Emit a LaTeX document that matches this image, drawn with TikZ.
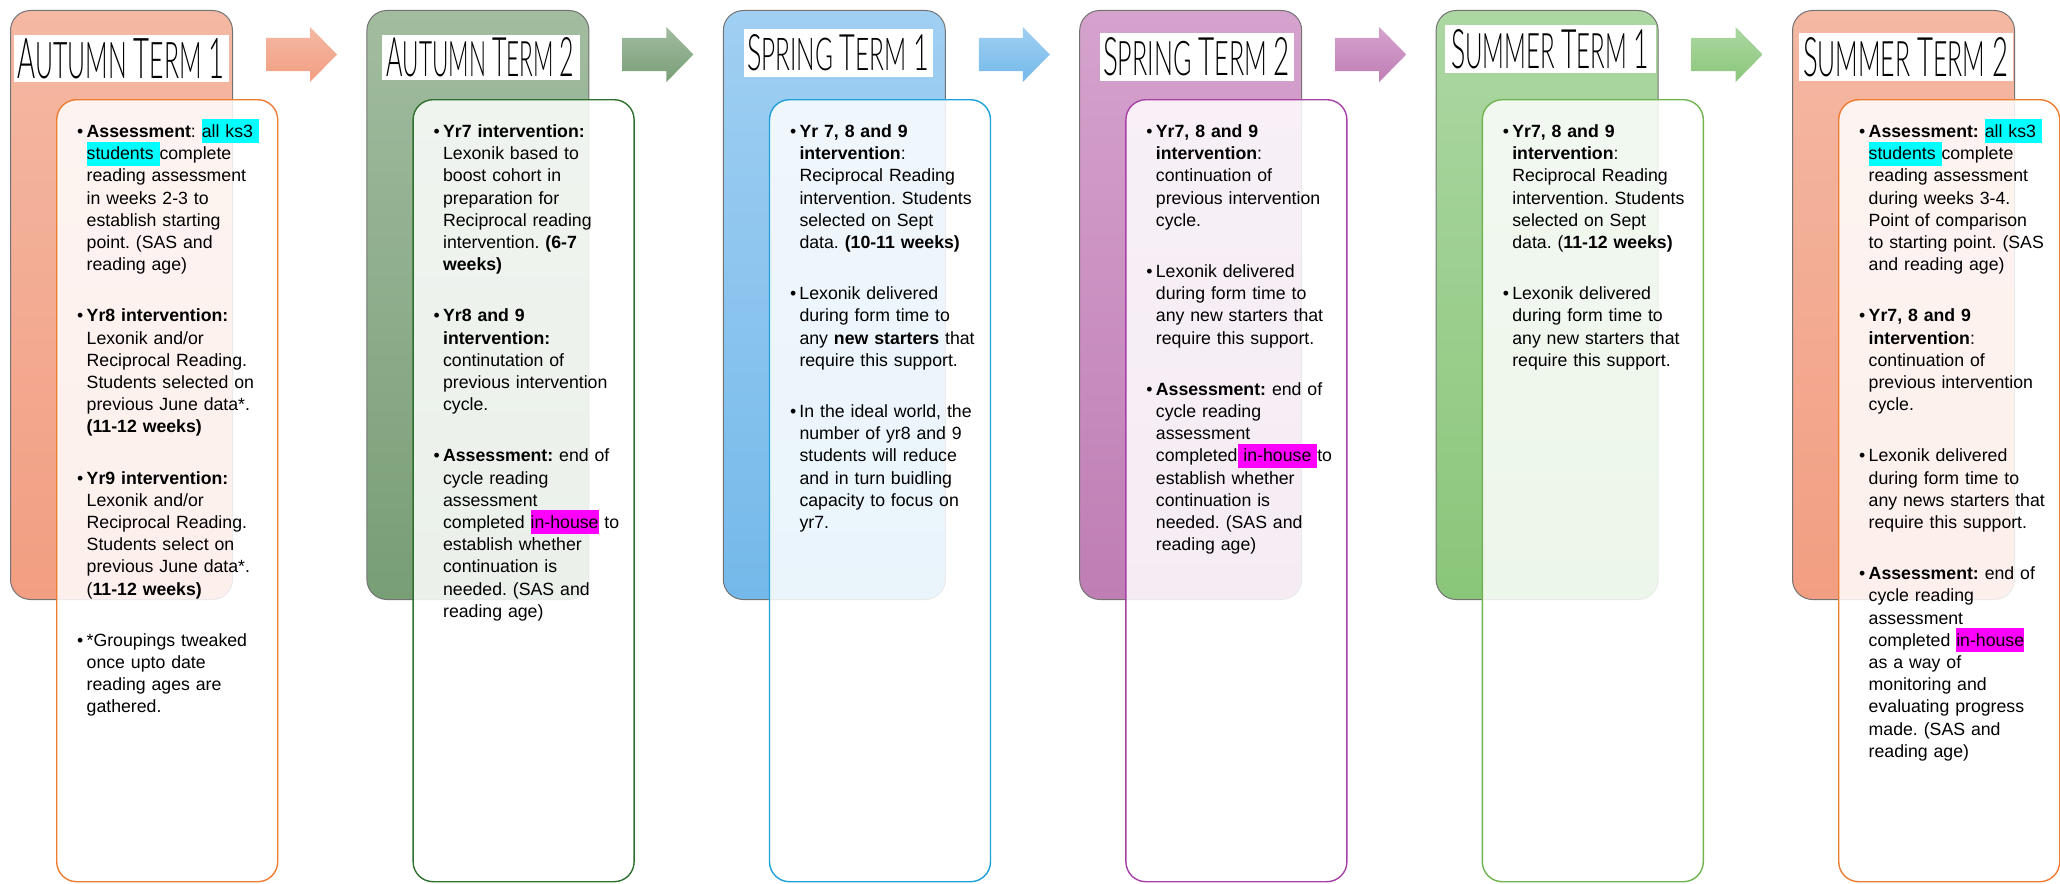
\documentclass[tikz,border=0pt]{standalone}
\usepackage{fontspec}
\usepackage{graphicx}
\setmainfont{Liberation Sans}
\IfFontExistsTF{Lato Light}{\newfontfamily\termfont{Lato Light}}{\newfontfamily\termfont{Lato}}
\usetikzlibrary{calc, positioning}
\frenchspacing

\definecolor{autumnA}{RGB}{244,184,163}
\definecolor{autumnB}{RGB}{242,158,130}
\definecolor{sageA}{RGB}{162,188,160}
\definecolor{sageB}{RGB}{120,158,118}
\definecolor{skyA}{RGB}{160,207,242}
\definecolor{skyB}{RGB}{116,185,234}
\definecolor{plumA}{RGB}{213,162,205}
\definecolor{plumB}{RGB}{191,126,180}
\definecolor{leafA}{RGB}{172,215,162}
\definecolor{leafB}{RGB}{138,198,122}
\definecolor{orangeline}{RGB}{237,125,49}
\definecolor{sageline}{RGB}{46,112,46}
\definecolor{skyline}{RGB}{30,160,218}
\definecolor{plumline}{RGB}{166,64,166}
\definecolor{leafline}{RGB}{112,180,80}
\definecolor{markcyan}{RGB}{0,255,255}
\definecolor{markpink}{RGB}{255,0,255}

% text helpers
\newcommand{\itm}[1]{\par\hangindent=9.5pt\hangafter=1\noindent\rule{0pt}{18pt}\makebox[9.5pt][l]{\textbullet}#1\par\vspace{29pt}}
\newcommand{\marktext}[2]{\smash{\setlength{\fboxsep}{0pt}\colorbox{#1}{\rule[-6pt]{0pt}{24pt}#2}}}
\newcommand{\bigc}[1]{{\fontsize{60}{60}\selectfont #1}}
\newcommand{\termtitle}[3]{\resizebox{#1}{#2}{\termfont\fontsize{54}{54}\selectfont #3}}
\newcommand{\termarrow}[3]{\shade[top color=#2, bottom color=#3] (#1) -- ++(44,0) -- ++(0,-11) -- ++(27,27.5) -- ++(-27,27.5) -- ++(0,-11) -- ++(-44,0) -- cycle;}

\tikzset{
 termbox/.style = {
    rectangle, draw=black!55, line width=1pt,
    rounded corners=20pt,
    minimum width=222pt, minimum height=589pt, inner sep=0pt},
 notebox/.style = {
    rectangle, draw=#1, line width=1.4pt,
    fill=white, fill opacity=0.85, text opacity=1,
    rounded corners=20pt, anchor=north west,
    minimum width=221pt, minimum height=782pt},
 titlebox/.style = {
    fill=white, inner sep=0pt},
 notetext/.style = {
    anchor=north west, inner sep=0pt, text width=205pt,
    font=\fontsize{17.7}{22.2}\selectfont},
}

\begin{document}
\begin{tikzpicture}[x=1pt, y=-1pt]
    \useasboundingbox (0,0) rectangle (2060,883);

    % Place term boxes
    \node [termbox, anchor=north west, top color=autumnA, bottom color=autumnB] (b1) at (10,10) {};
    \node [termbox, right=133.4pt of b1, top color=sageA, bottom color=sageB]    (b2) {};
    \node [termbox, right=133.4pt of b2, top color=skyA, bottom color=skyB]      (b3) {};
    \node [termbox, right=133.4pt of b3, top color=plumA, bottom color=plumB]    (b4) {};
    \node [termbox, right=133.4pt of b4, top color=leafA, bottom color=leafB]    (b5) {};
    \node [termbox, right=133.4pt of b5, top color=autumnA, bottom color=autumnB] (b6) {};

    % Titles
    \node [titlebox, minimum width=215pt, minimum height=47pt] (t1) at ($(b1.north)+(-0.5,48.5)$) {\termtitle{207pt}{40pt}{\bigc{A}UTUMN \bigc{T}ERM \bigc{1}}};
    \node [titlebox, minimum width=198pt, minimum height=45pt] (t2) at ($(b2.north)+(2.6,47.5)$) {\termtitle{188pt}{39pt}{\bigc{A}UTUMN \bigc{T}ERM \bigc{2}}};
    \node [titlebox, minimum width=189pt, minimum height=48pt] (t3) at ($(b3.north)+(3.7,43)$) {\termtitle{182pt}{36pt}{\bigc{S}PRING \bigc{T}ERM \bigc{1}}};
    \node [titlebox, minimum width=194pt, minimum height=48pt] (t4) at ($(b4.north)+(5.8,47)$) {\termtitle{187pt}{38pt}{\bigc{S}PRING \bigc{T}ERM \bigc{2}}};
    \node [titlebox, minimum width=211pt, minimum height=48pt] (t5) at ($(b5.north)+(2.9,39)$) {\termtitle{198pt}{39pt}{\bigc{S}UMMER \bigc{T}ERM \bigc{1}}};
    \node [titlebox, minimum width=214pt, minimum height=48pt] (t6) at ($(b6.north)+(2,47)$) {\termtitle{205pt}{39pt}{\bigc{S}UMMER \bigc{T}ERM \bigc{2}}};

    % Arrows between terms
    \coordinate (a1) at ($(b1.north east)+(33,28)$);
    \coordinate (a2) at ($(b2.north east)+(33,28)$);
    \coordinate (a3) at ($(b3.north east)+(33,28)$);
    \coordinate (a4) at ($(b4.north east)+(33,28)$);
    \coordinate (a5) at ($(b5.north east)+(33,28)$);
    \termarrow{a1}{autumnA}{autumnB}
    \termarrow{a2}{sageA}{sageB}
    \termarrow{a3}{skyA}{skyB}
    \termarrow{a4}{plumA}{plumB}
    \termarrow{a5}{leafA}{leafB}

    % Note boxes
    \node [notebox=orangeline] (f1) at ($(b1.north west)+(46,89)$) {};
    \node [notebox=sageline]   (f2) at ($(b2.north west)+(46,89)$) {};
    \node [notebox=skyline]    (f3) at ($(b3.north west)+(46,89)$) {};
    \node [notebox=plumline]   (f4) at ($(b4.north west)+(46,89)$) {};
    \node [notebox=leafline]   (f5) at ($(b5.north west)+(46,89)$) {};
    \node [notebox=orangeline] (f6) at ($(b6.north west)+(46,89)$) {};

    % Notes
    \node [notetext] (n1) at ($(f1.north west)+(21,16)$) {%
        \itm{\textbf{Assessment}: \marktext{markcyan}{all ks3\ }\newline \marktext{markcyan}{students }complete\newline reading assessment\newline in weeks 2-3 to\newline establish starting\newline point. (SAS and\newline reading age)}
        \itm{\textbf{Yr8 intervention:}\newline Lexonik and/or\newline Reciprocal Reading.\newline Students selected on\newline previous June data*.\newline \textbf{(11-12 weeks)}}
        \itm{\textbf{Yr9 intervention:}\newline Lexonik and/or\newline Reciprocal Reading.\newline Students select on\newline previous June data*.\newline (\textbf{11-12 weeks)}}
        \itm{*Groupings tweaked\newline once upto date\newline reading ages are\newline gathered.}};
    \node [notetext] (n2) at ($(f2.north west)+(21,16)$) {%
        \itm{\textbf{Yr7 intervention:}\newline Lexonik based to\newline boost cohort in\newline preparation for\newline Reciprocal reading\newline intervention. \textbf{(6-7}\newline \textbf{weeks)}}
        \itm{\textbf{Yr8 and 9}\newline \textbf{intervention:}\newline continutation of\newline previous intervention\newline cycle.}
        \itm{\textbf{Assessment:} end of\newline cycle reading\newline assessment\newline completed \marktext{markpink}{in-house} to\newline establish whether\newline continuation is\newline needed. (SAS and\newline reading age)}};
    \node [notetext] (n3) at ($(f3.north west)+(21,16)$) {%
        \itm{\textbf{Yr 7, 8 and 9}\newline \textbf{intervention}:\newline Reciprocal Reading\newline intervention. Students\newline selected on Sept\newline data. \textbf{(10-11 weeks)}}
        \itm{Lexonik delivered\newline during form time to\newline any \textbf{new starters} that\newline require this support.}
        \itm{In the ideal world, the\newline number of yr8 and 9\newline students will reduce\newline and in turn buidling\newline capacity to focus on\newline yr7.}};
    \node [notetext] (n4) at ($(f4.north west)+(21,16)$) {%
        \itm{\textbf{Yr7, 8 and 9}\newline \textbf{intervention}:\newline continuation of\newline previous intervention\newline cycle.}
        \itm{Lexonik delivered\newline during form time to\newline any new starters that\newline require this support.}
        \itm{\textbf{Assessment:} end of\newline cycle reading\newline assessment\newline completed\marktext{markpink}{ in-house }to\newline establish whether\newline continuation is\newline needed. (SAS and\newline reading age)}};
    \node [notetext] (n5) at ($(f5.north west)+(21,16)$) {%
        \itm{\textbf{Yr7, 8 and 9}\newline \textbf{intervention}:\newline Reciprocal Reading\newline intervention. Students\newline selected on Sept\newline data. (\textbf{11-12 weeks)}}
        \itm{Lexonik delivered\newline during form time to\newline any new starters that\newline require this support.}};
    \node [notetext] (n6) at ($(f6.north west)+(21,16)$) {%
        \itm{\textbf{Assessment:} \marktext{markcyan}{all ks3\ }\newline \marktext{markcyan}{students }complete\newline reading assessment\newline during weeks 3-4.\newline Point of comparison\newline to starting point. (SAS\newline and reading age)}
        \itm{\textbf{Yr7, 8 and 9}\newline \textbf{intervention}:\newline continuation of\newline previous intervention\newline cycle.}
        \itm{Lexonik delivered\newline during form time to\newline any news starters that\newline require this support.}
        \itm{\textbf{Assessment:} end of\newline cycle reading\newline assessment\newline completed \marktext{markpink}{in-house}\newline as a way of\newline monitoring and\newline evaluating progress\newline made. (SAS and\newline reading age)}};
\end{tikzpicture}
\end{document}
